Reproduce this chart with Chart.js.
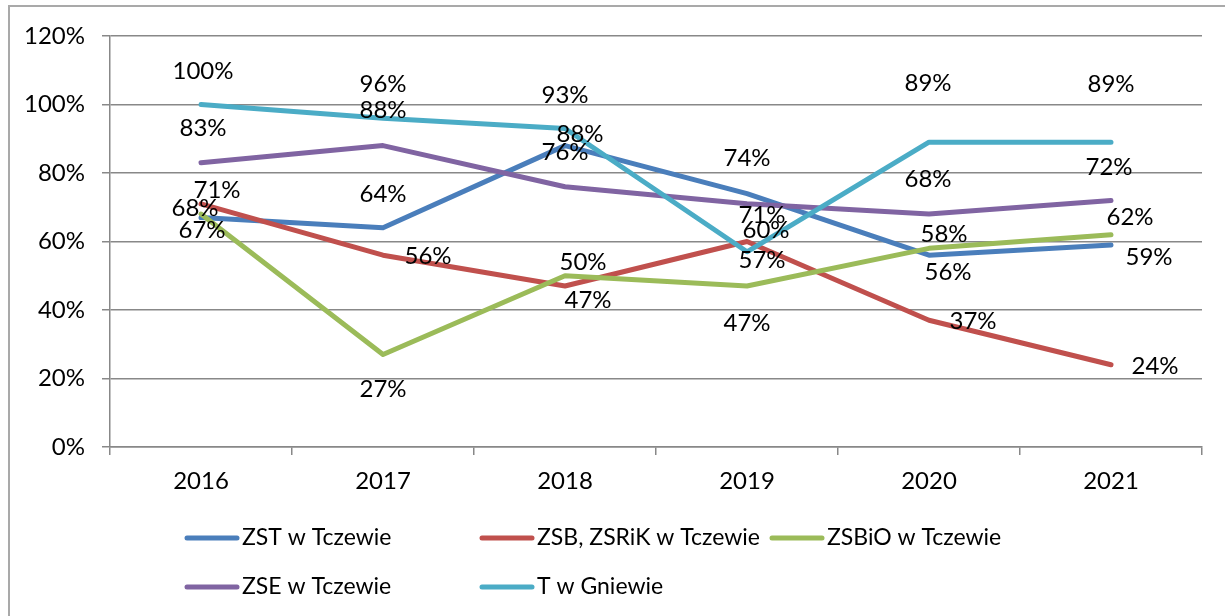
<!DOCTYPE html>
<html>
<head>
<meta charset="utf-8">
<script src="https://cdn.jsdelivr.net/npm/chart.js@4"></script>
<style>
  html, body { margin: 0; padding: 0; background: #fff; }
  #wrap { position: relative; width: 1225px; height: 616px; overflow: hidden; }
  #frame { position: absolute; left: 8px; top: 5px; width: 1260px; height: 640px; border: 2px solid #a9a9a9; box-sizing: border-box; }
  canvas { position: absolute; left: 0; top: 0; }
</style>
</head>
<body>
<div id="wrap">
  <div id="frame"></div>
  <canvas id="chart" width="1225" height="616"></canvas>
</div>
<script>
const years = ['2016', '2017', '2018', '2019', '2020', '2021'];
const seriesNames = ['ZST w Tczewie', 'ZSB, ZSRiK w Tczewie', 'ZSBiO w Tczewie', 'ZSE w Tczewie', 'T w Gniewie'];
const zst = [67, 64, 88, 74, 56, 59];
const zsb = [71, 56, 47, 60, 37, 24];
const zsbio = [68, 27, 50, 47, 58, 62];
const zse = [83, 88, 76, 71, 68, 72];
const gniew = [100, 96, 93, 57, 89, 89];
const yTicks = [0, 20, 40, 60, 80, 100, 120];

const colors = ['#4a7ebb', '#c0504d', '#9bbb59', '#8064a2', '#4bacc6'];
const FONT = 'Lato, "Open Sans", sans-serif';
const FS = 24;

// where each data label sits relative to its point [dx, dy]
const labelOffsets = [
  [[1, 13], [0, -34], [15, -11], [0, -35], [19, 17], [38, 12]],
  [[16, -14], [45, 1], [23, 14], [19, -11], [44, 1], [44, 1]],
  [[-6, -6], [0, 35], [18, -13], [0, 37], [15, -14], [19, -17]],
  [[2, -34], [0, -35], [0, -34], [15, 11], [-1, -35], [-2, -33]],
  [[2, -33], [0, -34], [0, -33], [15, 8], [-1, -59], [0, -58]]
];

const allSeries = [zst, zsb, zsbio, zse, gniew];

const dataLabels = {
  id: 'dataLabels',
  afterDatasetsDraw(chart) {
    const c = chart.ctx;
    c.save();
    c.font = FS + 'px ' + FONT;
    c.fillStyle = '#000';
    c.textAlign = 'center';
    c.textBaseline = 'middle';
    chart.data.datasets.forEach((ds, i) => {
      const meta = chart.getDatasetMeta(i);
      meta.data.forEach((pt, j) => {
        const off = labelOffsets[i][j];
        c.fillText(ds.data[j] + '%', pt.x + off[0], pt.y + off[1]);
      });
    });
    c.restore();
  }
};

const legendItems = [[187, 538], [482, 538], [772, 538], [187, 587], [482, 587]];

const customLegend = {
  id: 'customLegend',
  afterDraw(chart) {
    const c = chart.ctx;
    c.save();
    c.font = '23px ' + FONT;
    c.textBaseline = 'middle';
    c.textAlign = 'left';
    chart.data.datasets.forEach((ds, i) => {
      const [x, y] = legendItems[i];
      c.strokeStyle = ds.borderColor;
      c.lineWidth = 5;
      c.lineCap = 'round';
      c.beginPath();
      c.moveTo(x, y);
      c.lineTo(x + 50, y);
      c.stroke();
      c.fillStyle = '#000';
      c.fillText(ds.label, x + 55, y);
    });
    c.restore();
  }
};

new Chart(document.getElementById('chart'), {
  type: 'line',
  data: {
    labels: years,
    datasets: allSeries.map((s, i) => ({
      label: seriesNames[i],
      data: s,
      borderColor: colors[i],
      backgroundColor: colors[i],
      borderWidth: 5,
      borderCapStyle: 'round',
      borderJoinStyle: 'round',
      pointRadius: 0,
      tension: 0,
      order: allSeries.length - i
    }))
  },
  options: {
    responsive: false,
    animation: false,
    layout: { padding: { left: 0, right: 23, top: 36, bottom: 0 } },
    plugins: {
      legend: { display: false },
      tooltip: { enabled: false }
    },
    scales: {
      x: {
        offset: true,
        grid: { drawOnChartArea: false, offset: true, tickLength: 8, color: '#888', lineWidth: 1.5 },
        border: { color: '#888', width: 1.5 },
        ticks: { color: '#000', font: { family: FONT, size: FS }, padding: 12, maxRotation: 0 },
        afterFit(scale) { scale.height = 169; }
      },
      y: {
        min: 0,
        max: 120,
        afterBuildTicks(scale) { scale.ticks = yTicks.map(v => ({ value: v })); },
        grid: { color: '#888', lineWidth: 1.5, tickLength: 8 },
        border: { color: '#888', width: 1.5 },
        ticks: { color: '#000', font: { family: FONT, size: FS }, padding: 17, callback: v => v + '%' },
        afterFit(scale) { scale.width = 110; }
      }
    }
  },
  plugins: [dataLabels, customLegend]
});
</script>
</body>
</html>
